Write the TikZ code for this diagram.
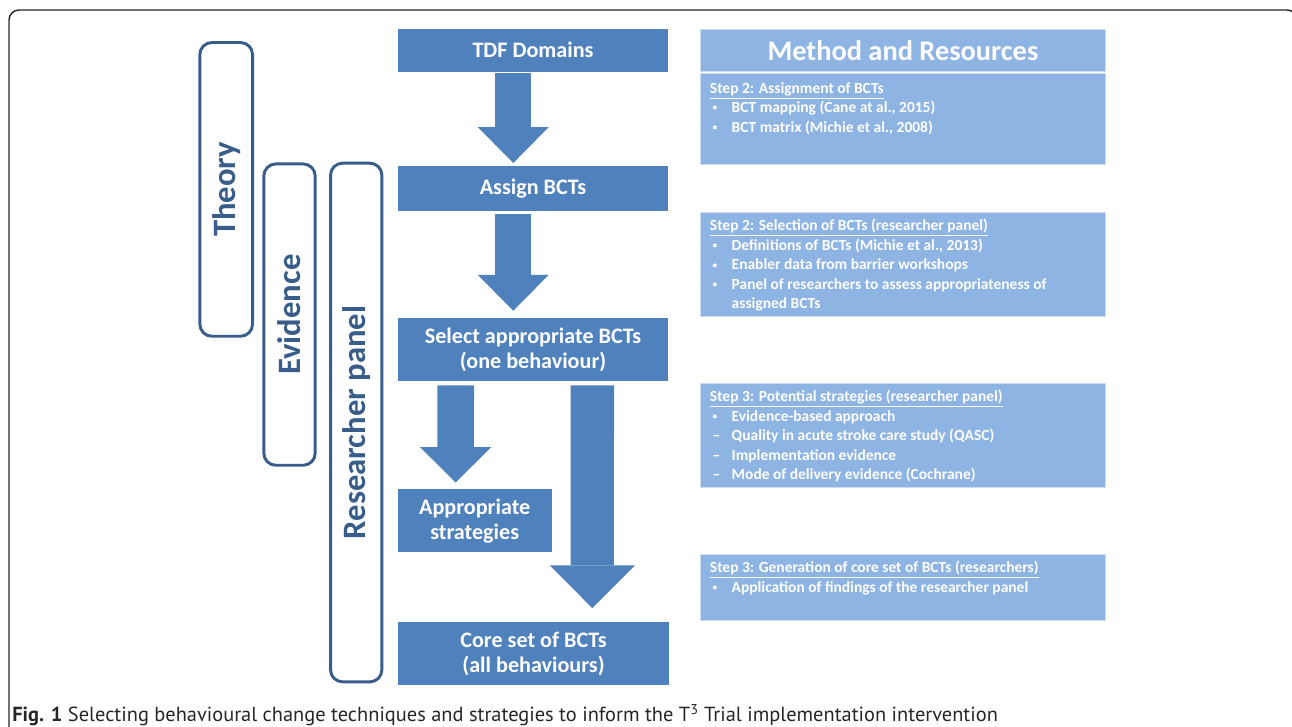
\documentclass[tikz,border=0pt]{standalone}
\usepackage{fontspec}
\usepackage{graphicx}
\setmainfont{Carlito}
\newfontfamily\capfont{PT Sans}
\usetikzlibrary{arrows.meta}
\definecolor{boxblue}{HTML}{4F81BD}
\definecolor{paleblue}{HTML}{8EB4E3}
\definecolor{edgeblue}{HTML}{385D8A}
\newcommand{\itm}[1]{\hspace*{2pt}\makebox[14.3pt][l]{#1}}
\newcommand{\dotmark}{\raisebox{0.12em}{\scalebox{0.6}{•}}}
\begin{document}
\begin{tikzpicture}[x=0.75pt,y=-0.75pt,
  mainbox/.style={fill=boxblue, text=white, align=center, inner sep=0pt, font=\bfseries\fontsize{16.6}{18.75}\selectfont},
  sidebox/.style={draw=edgeblue, line width=2.2pt, rounded corners=9pt, rotate=90, inner sep=0pt, text=edgeblue, font=\bfseries\fontsize{24.5}{28}\selectfont},
  infobox/.style={fill=paleblue, draw=white!55!paleblue, line width=0.6pt, inner sep=0pt, minimum width=303.2pt},
  infotext/.style={anchor=north west, text=white, align=left, inner sep=0pt, font=\bfseries\fontsize{11.6}{14.6}\selectfont},
  blockarrow/.style n args={3}{draw=boxblue, line width=#1, -{Triangle[width=#2, length=#3, line width=0pt]}}
]
\path[use as bounding box, clip] (0,0) rectangle (1292,727);
\draw[line width=1.1pt, rounded corners=7.5pt, black!85] (9,760) -- (9,10) -- (1297,10) -- (1297,760);

% flow
\node[mainbox, minimum width=202.5pt, minimum height=32pt] (tdf) at (533,50.3) {TDF Domains};
\node[mainbox, minimum width=202.5pt, minimum height=33.75pt] (assign) at (533,188.2) {Assign BCTs};
\node[mainbox, minimum width=202.5pt, minimum height=47pt] (select) at (533,349.7) {Select appropriate BCTs\\(one behaviour)};
\node[mainbox, minimum width=115.5pt, minimum height=47pt] (strat) at (474.7,520.7) {Appropriate\\strategies};
\node[mainbox, minimum width=203.7pt, minimum height=47pt] (core) at (533.5,653.7) {Core set of BCTs\\(all behaviours)};
\draw[blockarrow={27pt}{53.3pt}{27pt}, shorten <=1.2pt, shorten >=1.8pt] ([xshift=-14.8pt]tdf.south) -- ([xshift=-14.8pt]assign.north);
\draw[blockarrow={27pt}{53.3pt}{27pt}, shorten <=2pt, shorten >=5.5pt] ([xshift=-14.8pt]assign.south) -- ([xshift=-14.8pt]select.north);
\draw[blockarrow={27.5pt}{53.5pt}{26.5pt}, shorten <=3pt, shorten >=5pt] ([xshift=-58pt]select.south) -- ([xshift=-14.3pt]strat.north);
\draw[blockarrow={32.5pt}{63.75pt}{32pt}, shorten <=3pt, shorten >=10.5pt] ([xshift=44.5pt]select.south) -- ([xshift=44.1pt]core.north);

% side bars
\node[sidebox, minimum width=220.3pt, minimum height=39.5pt] (theory) at (226.2,189.4) {Theory};
\node[sidebox, minimum width=226pt, minimum height=38.5pt] (evid) at (289.5,314.6) {Evidence};
\node[sidebox, minimum width=389pt, minimum height=38.5pt] (panel) at (356.2,422.5) {Researcher panel};

% method column
\node[infobox, minimum height=32pt, text=white, font=\bfseries\fontsize{21.3}{24}\selectfont] (method) at (902.9,50.35) {Method and Resources};
\node[infobox, minimum height=68.25pt] (s2a) at (902.9,118.8) {};
\node[infobox, minimum height=78.3pt] (s2b) at (902.9,264.5) {};
\node[infobox, minimum height=78.3pt] (s3a) at (902.9,435.5) {};
\node[infobox, minimum height=49.5pt] (s3b) at (902.9,587) {};
\node[infotext] (t2a) at ([shift={(7pt,-7pt)}]s2a.north west) {\underline{Step 2: Assignment of BCTs}\\
\itm{\dotmark}BCT mapping (Cane at al., 2015)\\
\itm{\dotmark}BCT matrix (Michie et al., 2008)};
\node[infotext] (t2b) at ([shift={(7pt,-5.5pt)}]s2b.north west) {\underline{Step 2: Selection of BCTs (researcher panel)}\\
\itm{\dotmark}Definitions of BCTs (Michie et al., 2013)\\
\itm{\dotmark}Enabler data from barrier workshops\\
\itm{\dotmark}Panel of researchers to assess appropriateness of\\
\itm{}assigned BCTs};
\node[infotext] (t3a) at ([shift={(7pt,-5.5pt)}]s3a.north west) {\underline{Step 3: Potential strategies (researcher panel)}\\
\itm{\dotmark}Evidence-based approach\\
\itm{–}Quality in acute stroke care study (QASC)\\
\itm{–}Implementation evidence\\
\itm{–}Mode of delivery evidence (Cochrane)};
\node[infotext] (t3b) at ([shift={(7pt,-5.5pt)}]s3b.north west) {\underline{Step 3: Generation of core set of BCTs (researchers)}\\
\itm{\dotmark}Application of findings of the researcher panel};

% caption
\node[anchor=base west, inner sep=0pt, text=black!85, font=\capfont\fontsize{15.3}{18}\selectfont] (cap) at (12,721) {\textbf{Fig. 1} Selecting behavioural change techniques and strategies to inform the T\textsuperscript{3} Trial implementation intervention};
\end{tikzpicture}
\end{document}
